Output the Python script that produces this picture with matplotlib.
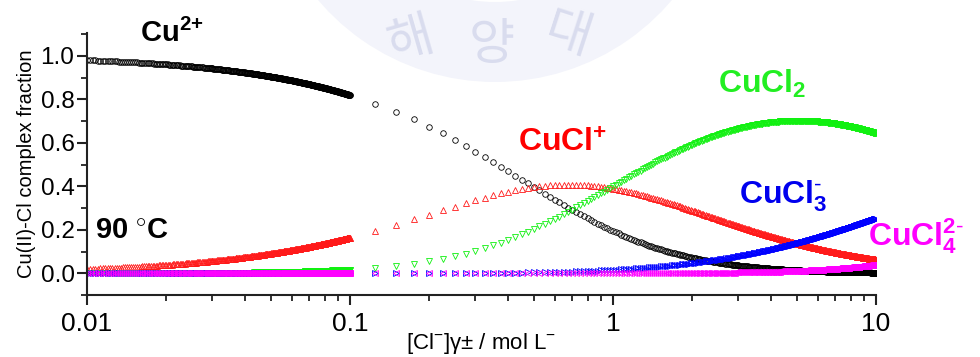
import numpy as np
import matplotlib as mpl
mpl.use("Agg")
import matplotlib.pyplot as plt
from matplotlib.patches import Wedge
from matplotlib.transforms import IdentityTransform

mpl.rcParams['font.family'] = ['Liberation Sans', 'DejaVu Sans']
mpl.rcParams['mathtext.fontset'] = 'custom'
mpl.rcParams['mathtext.rm'] = 'Liberation Sans'
mpl.rcParams['mathtext.bf'] = 'Liberation Sans:bold'
mpl.rcParams['mathtext.it'] = 'Liberation Sans:italic'

# [Cl-] activity grid (two calculation ranges, as in the source)
x_low = np.arange(0.01, 0.1 + 1e-9, 0.00025)
x_high = np.arange(0.125, 10 + 1e-9, 0.025)

# cumulative stability constants beta1..beta4
beta = [2.0, 2.05, 0.08, 0.00128]

species = ["Cu2+", "CuCl+", "CuCl2", "CuCl3-", "CuCl4 2-"]
colors = ["#000000", "#ff1a1a", "#11f011", "#0000ff", "#ff00ff"]
markers = ["o", "^", "v", ">", "<"]


def fractions(x):
    terms = [np.ones_like(x)] + [b * x ** (n + 1) for n, b in enumerate(beta)]
    total = sum(terms)
    return [t / total for t in terms]


W, H = 980, 357
fig = plt.figure(figsize=(W / 100, H / 100), dpi=100)

# faint university seal watermark behind the plot
seal = Wedge((495, H + 150), 232, 200, 340, width=80, transform=IdentityTransform(),
             facecolor="#f3f4fb", edgecolor="none", zorder=0)
fig.patches.append(seal)
for ch, px, py, rot in [("해", 411, 40, 16), ("양", 492, 45, 0), ("대", 568, 35, -18)]:
    fig.text(px / W, 1 - py / H, ch, family="Noto Sans CJK KR", fontsize=36,
             color="#d9dcee", ha="center", va="center", rotation=rot, zorder=0)

ax = fig.add_axes([87 / W, 1 - 295 / H, (876 - 87) / W, (295 - 33) / H])
ax.patch.set_alpha(0)

for x in (x_low, x_high):
    fr = fractions(x)
    for i in range(len(species)):
        ax.plot(x, fr[i], linestyle="none", marker=markers[i], ms=4.0,
                mfc="none", mec=colors[i], mew=0.6)

ax.set_xscale("log")
ax.set_xlim(0.01, 10)
ax.set_ylim(-0.1, 1.105)
ax.set_xticks([0.01, 0.1, 1, 10])
ax.set_xticklabels(["0.01", "0.1", "1", "10"])
ax.xaxis.set_minor_locator(mpl.ticker.LogLocator(base=10, subs=np.arange(2, 10)))
ax.xaxis.set_minor_formatter(mpl.ticker.NullFormatter())
ax.set_yticks(np.arange(0, 1.01, 0.2))
ax.set_yticklabels(["0.0", "0.2", "0.4", "0.6", "0.8", "1.0"])
ax.yaxis.set_minor_locator(mpl.ticker.MultipleLocator(0.1))

for side in ["top", "right"]:
    ax.spines[side].set_visible(False)
for side in ["left", "bottom"]:
    ax.spines[side].set_linewidth(1.5)
    ax.spines[side].set_color("#222222")
ax.tick_params(which="major", length=7, width=1.5, color="#222222")
ax.tick_params(which="minor", length=4.5, width=1.3, color="#222222")
ax.tick_params(axis="x", labelsize=19, pad=5)
ax.tick_params(axis="y", labelsize=17.5, pad=2)

ax.set_ylabel("Cu(II)-Cl complex fraction", fontsize=14.5, labelpad=3)
ax.set_xlabel("[Cl$^{-}$]γ± / mol L$^{-}$", fontsize=16, labelpad=-3)

labels = [
    (r"$\mathbf{Cu^{2{+}}}$", 140, 42, "#000000", 21),
    (r"$\mathbf{90\ ^{\circ}C}$", 95, 239, "#000000", 21),
    (r"$\mathbf{CuCl^{{+}}}$", 518, 152, "#ff0000", 23),
    (r"$\mathbf{CuCl_{2}}$", 718, 93, "#22ee22", 23),
    (r"$\mathbf{CuCl_{3}^{\text{-}}}$", 739, 204, "#0000ee", 23),
    (r"$\mathbf{CuCl_{4}^{2\text{-}}}$", 868, 246, "#ff00ff", 23),
]
for txt, px, py, c, fs in labels:
    fig.text(px / W, 1 - py / H, txt, color=c, fontsize=fs, ha="left", va="baseline")

fig.savefig("out.png", dpi=100)
